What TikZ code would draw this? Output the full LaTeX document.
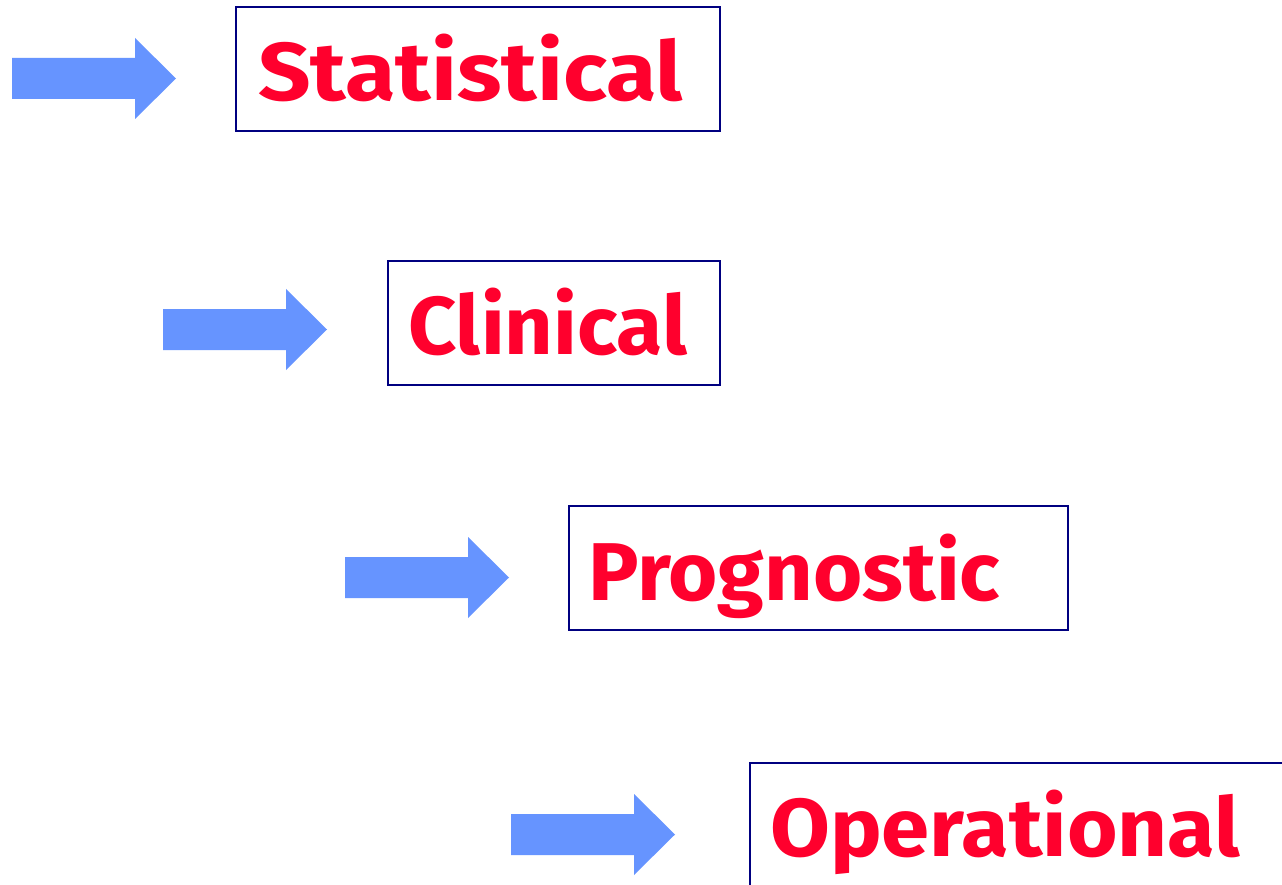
\documentclass[tikz,border=0pt]{standalone}
\usepackage{fontspec}
\usepackage{graphicx}
\setmainfont{Fira Sans}
\definecolor{arrowblue}{RGB}{102,148,255}
\definecolor{labelred}{RGB}{255,0,45}
\definecolor{framenavy}{RGB}{0,0,128}
% stretch a label horizontally to a given width, keeping its height
\newcommand{\widelabel}[2]{\resizebox{#1}{\height}{#2}}
\tikzset{
  bigarrow/.style={fill=arrowblue, draw=none},
  framebox/.style={draw=framenavy, line width=2.4pt, fill=white},
  label/.style={anchor=base west, inner sep=0pt, text=labelred,
    font=\fontsize{82}{82}\selectfont\bfseries}
}
\begin{document}
\begin{tikzpicture}[x=1pt,y=-1pt]
  \clip (0,0) rectangle (1282,885);
  \fill[white] (0,0) rectangle (1282,885);
  % block arrow: shaft 123 x 41, head 41 long and 81 tall
  \newcommand{\blockarrow}[2]{%
    \fill[bigarrow] (#1,#2-20.5) -- ++(123,0) -- ++(0,-20) -- (#1+164,#2)
      -- (#1+123,#2+40.5) -- ++(0,-20) -- (#1,#2+20.5) -- cycle;}
  \blockarrow{12}{78.5}
  \blockarrow{163}{329.5}
  \blockarrow{345}{577.5}
  \blockarrow{511}{834.5}

  \draw[framebox] (236,7) rectangle (720,131);
  \draw[framebox] (388,261) rectangle (720,385);
  \draw[framebox] (569,506) rectangle (1068,630);
  \draw[framebox] (750,763) rectangle (1300,900);

  \node[label] (t1) at (258,101) {\widelabel{425pt}{Statistical}};
  \node[label] (t2) at (408,354) {\widelabel{279pt}{Clinical}};
  \node[label] (t3) at (588,600) {\widelabel{412pt}{Prognostic}};
  \node[label] (t4) at (770,856) {\widelabel{470pt}{Operational}};
\end{tikzpicture}
\end{document}
